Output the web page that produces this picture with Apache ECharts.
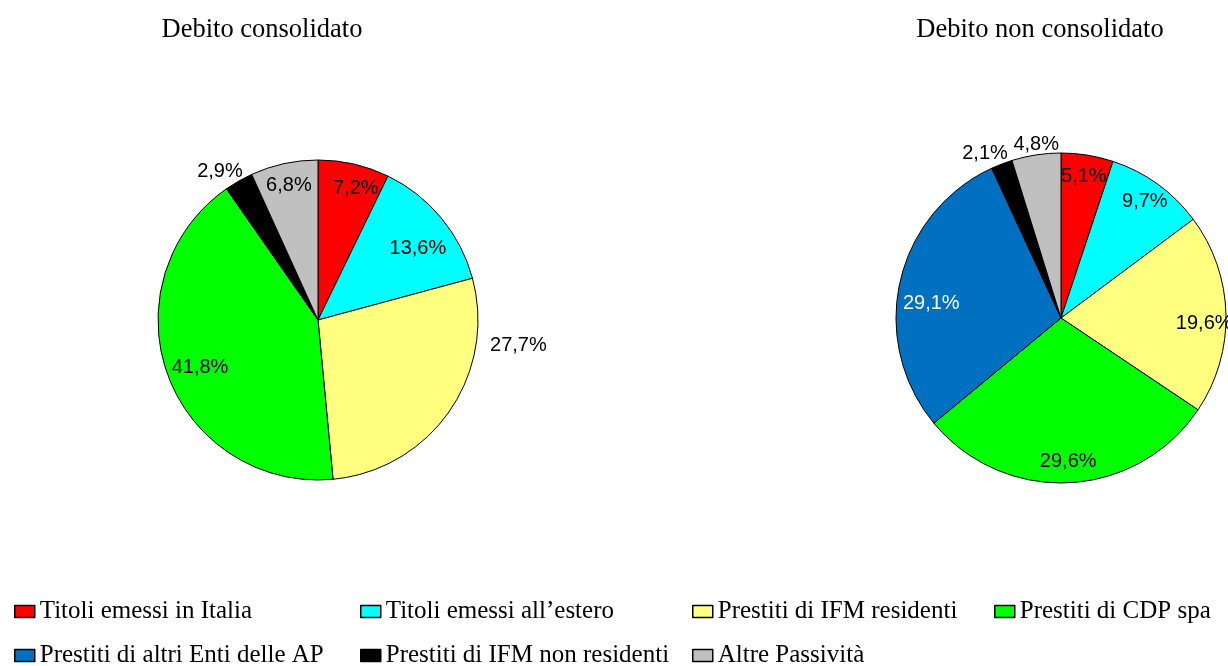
<!DOCTYPE html>
<html>
<head>
<meta charset="utf-8">
<script src="https://cdn.jsdelivr.net/npm/echarts@6/dist/echarts.min.js"></script>
<style>
html,body{margin:0;padding:0;background:#fff;}
#chart{width:1228px;height:666px;}
</style>
</head>
<body>
<div id="chart"></div>
<script>
// ---- data ----
const categories = [
  'Titoli emessi in Italia',
  'Titoli emessi all\u2019estero',
  'Prestiti di IFM residenti',
  'Prestiti di CDP spa',
  'Prestiti di altri Enti delle AP',
  'Prestiti di IFM non residenti',
  'Altre Passività'
];
const debitoConsolidato = [7.2, 13.6, 27.7, 41.8, null, 2.9, 6.8];
const debitoNonConsolidato = [5.1, 9.7, 19.6, 29.6, 29.1, 2.1, 4.8];
const titles = ['Debito consolidato', 'Debito non consolidato'];

// ---- styles ----
const colors = ['#FF0000', '#00FFFF', '#FFFF80', '#00FF00', '#0070C0', '#000000', '#C0C0C0'];
const labelColors = ['#000', '#000', '#000', '#000', '#fff', '#000', '#000'];
const outsideLeft = [2, 5];
const outsideRight = [5, 6];

function fmt(v) { return v.toFixed(1).replace('.', ',') + '%'; }

function buildData(values, outside, asOverlay) {
  const out = [];
  values.forEach((v, i) => {
    if (v === null) return;
    const isOut = outside.indexOf(i) >= 0;
    out.push({
      name: categories[i],
      value: v,
      catIndex: i,
      itemStyle: asOverlay ? { color: 'rgba(0,0,0,0)', borderWidth: 0 } : { color: colors[i] },
      label: asOverlay
        ? { show: !isOut, color: labelColors[i] }
        : { show: isOut, color: labelColors[i] }
    });
  });
  return out;
}

const labelFont = { fontFamily: 'Liberation Sans, Arial, sans-serif', fontSize: 20 };

function tweakLayout(data, tweaks) {
  return function (params) {
    const d = data[params.dataIndex];
    const t = d && tweaks[d.catIndex];
    return t ? { dx: t[0], dy: t[1] } : {};
  };
}

function visibleSeries(values, outside, center, r, tweaks) {
  const data = buildData(values, outside, false);
  return {
    type: 'pie',
    center: center,
    radius: r,
    startAngle: 90,
    clockwise: true,
    avoidLabelOverlap: false,
    animation: false,
    silent: true,
    itemStyle: { borderColor: '#000', borderWidth: 1 },
    label: Object.assign({ position: 'outside', formatter: p => fmt(p.value) }, labelFont),
    labelLine: { show: false, length: 8, length2: 0 },
    labelLayout: tweakLayout(data, tweaks),
    emphasis: { disabled: true },
    data: data
  };
}

function overlaySeries(values, outside, center, r, frac, tweaks) {
  const data = buildData(values, outside, true);
  return {
    type: 'pie',
    center: center,
    radius: [0, r * frac * 2],
    startAngle: 90,
    clockwise: true,
    avoidLabelOverlap: false,
    animation: false,
    silent: true,
    z: 5,
    label: Object.assign({ position: 'inside', formatter: p => fmt(p.value) }, labelFont),
    labelLine: { show: false },
    labelLayout: tweakLayout(data, tweaks),
    emphasis: { disabled: true },
    legendHoverLink: false,
    data: data
  };
}

const legendPos = [
  [14, 599], [360, 599], [692, 599], [994, 599],
  [14, 643], [360, 643], [692, 643]
];

const legends = categories.map((c, i) => ({
  data: [c],
  left: legendPos[i][0],
  top: legendPos[i][1],
  padding: 0,
  itemWidth: 20,
  itemHeight: 12,
  icon: 'rect',
  selectedMode: false,
  itemStyle: { borderColor: '#000', borderWidth: 1.5 },
  textStyle: { fontFamily: 'Liberation Serif, Times New Roman, serif', fontSize: 25, color: '#000' }
}));

const titleStyle = { fontFamily: 'Liberation Serif, Times New Roman, serif', fontSize: 26.5, fontWeight: 'normal', color: '#000' };

const chart = echarts.init(document.getElementById('chart'), null, { renderer: 'canvas' });
chart.setOption({
  backgroundColor: '#fff',
  animation: false,
  title: [
    { text: titles[0], left: 257, top: 12, textAlign: 'center', textStyle: titleStyle },
    { text: titles[1], left: 1035, top: 12, textAlign: 'center', textStyle: titleStyle }
  ],
  legend: legends,
  series: [
    visibleSeries(debitoConsolidato, outsideLeft, [318, 320], 160, { 2: [29, -70], 5: [13, -3] }),
    visibleSeries(debitoNonConsolidato, outsideRight, [1061, 318], 165, { 5: [14, -3], 6: [29, -2] }),
    overlaySeries(debitoConsolidato, outsideLeft, [318, 320], 160, 0.84, { 0: [7, 2], 1: [-6, 16], 3: [11, 0] }),
    overlaySeries(debitoNonConsolidato, outsideRight, [1061, 318], 165, 0.85, { 4: [10, 17], 2: [0, 9] })
  ]
});
</script>
</body>
</html>
